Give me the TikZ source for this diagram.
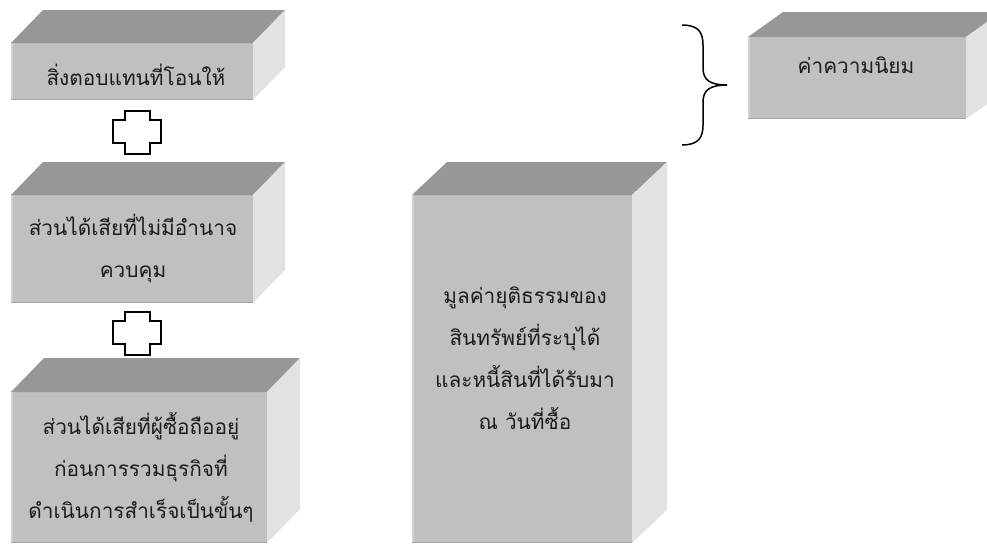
\documentclass[tikz,border=0pt]{standalone}
\usepackage{fontspec}
\newfontfamily\thaifont[Script=Thai]{Loma}
\usetikzlibrary{calc}
\definecolor{frontc}{HTML}{C0C0C0}
\definecolor{topc}{HTML}{979797}
\definecolor{sidec}{HTML}{E2E2E2}
\definecolor{lightedge}{HTML}{D2D2D2}
\definecolor{darkedge}{HTML}{A5A5A5}
\definecolor{textc}{HTML}{1C1C1C}
\newcommand\mkcuboid[7]{%
  \node[frontface, minimum width={#4-#2}, minimum height={#5-#3}] (#1) at ({(#2+#4)/2},{(#3+#5)/2}) {};
  \fill[topc] (#1.north west) -- ++(#6,-#7) -- ++({#4-#2},0) -- (#1.north east) -- cycle;
  \fill[sidec] (#1.north east) -- ++(#6,-#7) -- ++(0,{#5-#3}) -- (#1.south east) -- cycle;
  \draw[lightedge, line width=1.5] ($(#1.south west)+(0.75,0)$) -- ($(#1.north west)+(0.75,0)$);
  \draw[darkedge, line width=1.5] ($(#1.south west)+(0,-0.75)$) -- ($(#1.south east)+(0,-0.75)$);
}
\newcommand\mkplus[3]{%
  \draw[plusline, shift={(#2,#3)}] (125,111) -- (150,111) -- (150,120) -- (161,120) -- (161,143)
    -- (150,143) -- (150,154) -- (125,154) -- (125,143) -- (113,143) -- (113,120) -- (125,120) -- cycle;
  \coordinate (#1) at ({137+#2},{132.5+#3});
}
\begin{document}
\begin{tikzpicture}[x=1pt,y=-1pt,
  frontface/.style={fill=frontc, draw=none, inner sep=0, outer sep=0},
  txt/.style={font=\thaifont\fontsize{20.8}{42}\selectfont, align=center, text=textc, inner sep=0},
  plusline/.style={draw=black, line width=1.5pt, line join=miter},
  bracestyle/.style={draw=black, line width=1.5pt}]
\useasboundingbox (0,0) rectangle (987,546);
\clip (0,0) rectangle (987,546);
\mkcuboid{b1}{11}{43}{253}{100}{32}{33}
\mkcuboid{b2}{11}{195}{253}{303}{32}{33}
\mkcuboid{b3}{11}{392}{267}{543}{33}{34}
\mkcuboid{big}{412}{195}{632}{543}{35}{33}
\mkcuboid{gw}{748}{37}{966}{119}{35}{25}
\mkplus{p1}{0}{0}
\mkplus{p2}{0}{201}
\node[txt] (t1) at (136,75) {สิ่งตอบแทนที่โอนให้};
\node[txt] (t2) at (133,249) {ส่วนได้เสียที่ไม่มีอำนาจ\\ควบคุม};
\node[txt] (t3) at (141,467) {ส่วนได้เสียที่ผู้ซื้อถืออยู่\\ก่อนการรวมธุรกิจที่\\ดำเนินการสำเร็จเป็นขั้นๆ};
\node[txt] (t4) at (525,358) {มูลค่ายุติธรรมของ\\สินทรัพย์ที่ระบุได้\\และหนี้สินที่ได้รับมา\\ณ วันที่ซื้อ};
\node[txt] (t5) at (856,65) {ค่าความนิยม};
\coordinate (brtop) at (682,25);
\coordinate (brtip) at (727,85);
\coordinate (brbot) at (682,145);
\draw[bracestyle] (brtop) .. controls (698,25) and (703,32) .. (703,45) -- (703,68)
  .. controls (703,80) and (710,85) .. (brtip)
  .. controls (710,85) and (703,90) .. (703,102) -- (703,125)
  .. controls (703,138) and (698,145) .. (brbot);
\end{tikzpicture}
\end{document}
